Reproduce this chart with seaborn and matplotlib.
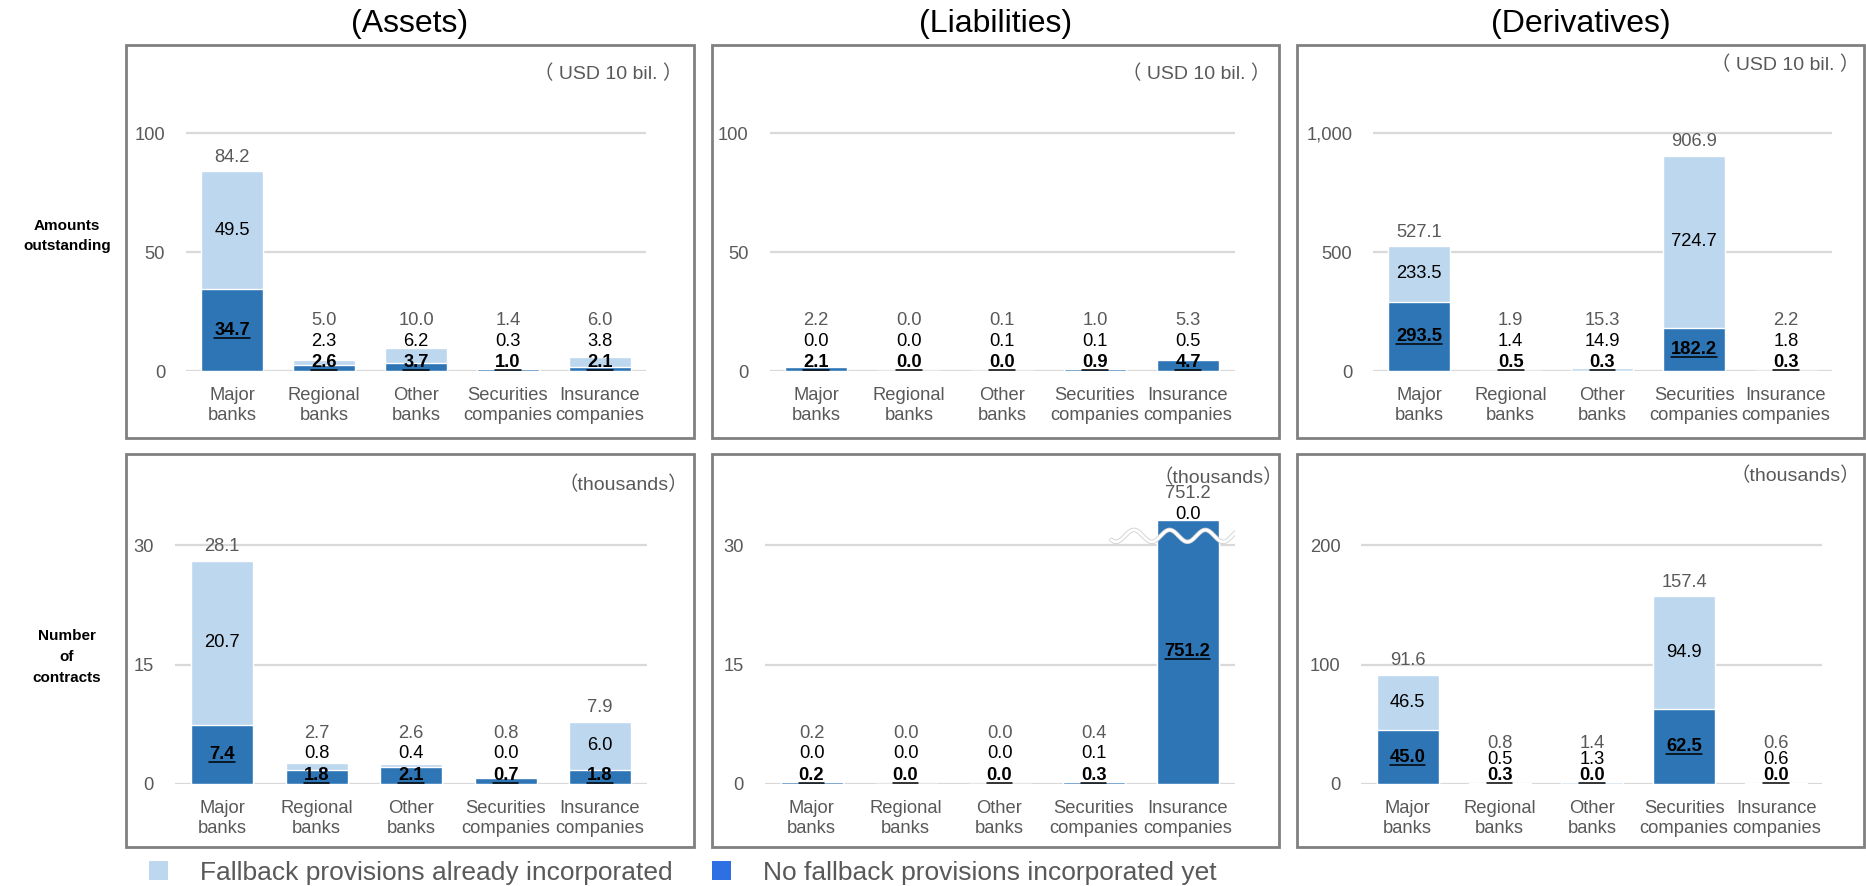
import numpy as np
import pandas as pd
import matplotlib
matplotlib.use("Agg")
import matplotlib.pyplot as plt
import seaborn as sns
from matplotlib.patches import Rectangle, Patch
from matplotlib.lines import Line2D

# ---------------- data ----------------
categories = ["Major\nbanks", "Regional\nbanks", "Other\nbanks",
              "Securities\ncompanies", "Insurance\ncompanies"]

col_titles = ["(Assets)", "(Liabilities)", "(Derivatives)"]
row_titles = ["Amounts\noutstanding", "Number\nof\ncontracts"]
unit_labels = [["（ USD 10 bil. ）", "（ USD 10 bil. ）", "（ USD 10 bil. ）"],
               ["（thousands）", "（thousands）", "（thousands）"]]
legend_labels = ["Fallback provisions already incorporated",
                 "No fallback provisions incorporated yet"]

assets_amt_total = [84.2, 5.0, 10.0, 1.4, 6.0]
assets_amt_fallback = [49.5, 2.3, 6.2, 0.3, 3.8]
assets_amt_nofallback = [34.7, 2.6, 3.7, 1.0, 2.1]

liab_amt_total = [2.2, 0.0, 0.1, 1.0, 5.3]
liab_amt_fallback = [0.0, 0.0, 0.1, 0.1, 0.5]
liab_amt_nofallback = [2.1, 0.0, 0.0, 0.9, 4.7]

deriv_amt_total = [527.1, 1.9, 15.3, 906.9, 2.2]
deriv_amt_fallback = [233.5, 1.4, 14.9, 724.7, 1.8]
deriv_amt_nofallback = [293.5, 0.5, 0.3, 182.2, 0.3]

assets_cnt_total = [28.1, 2.7, 2.6, 0.8, 7.9]
assets_cnt_fallback = [20.7, 0.8, 0.4, 0.0, 6.0]
assets_cnt_nofallback = [7.4, 1.8, 2.1, 0.7, 1.8]

liab_cnt_total = [0.2, 0.0, 0.0, 0.4, 751.2]
liab_cnt_fallback = [0.0, 0.0, 0.0, 0.1, 0.0]
liab_cnt_nofallback = [0.2, 0.0, 0.0, 0.3, 751.2]

deriv_cnt_total = [91.6, 0.8, 1.4, 157.4, 0.6]
deriv_cnt_fallback = [46.5, 0.5, 1.3, 94.9, 0.6]
deriv_cnt_nofallback = [45.0, 0.3, 0.0, 62.5, 0.0]

yticks_assets_amt = [0, 50, 100]
yticks_liab_amt = [0, 50, 100]
yticks_deriv_amt = [0, 500, 1000]
yticklabels_deriv_amt = ["0", "500", "1,000"]
yticks_cnt_small = [0, 15, 30]
yticks_deriv_cnt = [0, 100, 200]

panels = [
    [dict(total=assets_amt_total, fb=assets_amt_fallback, nofb=assets_amt_nofallback,
          ticks=yticks_assets_amt, ticklabels=[str(t) for t in yticks_assets_amt], cap=None),
     dict(total=liab_amt_total, fb=liab_amt_fallback, nofb=liab_amt_nofallback,
          ticks=yticks_liab_amt, ticklabels=[str(t) for t in yticks_liab_amt], cap=None),
     dict(total=deriv_amt_total, fb=deriv_amt_fallback, nofb=deriv_amt_nofallback,
          ticks=yticks_deriv_amt, ticklabels=yticklabels_deriv_amt, cap=None)],
    [dict(total=assets_cnt_total, fb=assets_cnt_fallback, nofb=assets_cnt_nofallback,
          ticks=yticks_cnt_small, ticklabels=[str(t) for t in yticks_cnt_small], cap=None),
     dict(total=liab_cnt_total, fb=liab_cnt_fallback, nofb=liab_cnt_nofallback,
          ticks=yticks_cnt_small, ticklabels=[str(t) for t in yticks_cnt_small], cap=33.2),
     dict(total=deriv_cnt_total, fb=deriv_cnt_fallback, nofb=deriv_cnt_nofallback,
          ticks=yticks_deriv_cnt, ticklabels=[str(t) for t in yticks_deriv_cnt], cap=None)],
]

# ---------------- style ----------------
LIGHT = "#BDD7EE"
DARK = "#2E75B6"
LEGEND_DARK = "#2F6FE4"
GRAY_TXT = "#595959"
GRID = "#D9D9D9"
BOX = "#808080"

sns.set_theme(style="white")
plt.rcParams["font.family"] = ["Liberation Sans", "Noto Sans CJK JP", "DejaVu Sans"]

W, H, DPI = 1866, 886, 100
fig = plt.figure(figsize=(W / DPI, H / DPI), dpi=DPI)

def fx(px):
    return px / W

def fy(py):
    return 1 - py / H

# geometry (pixels)
box_x = [(126, 694), (712, 1279), (1297, 1864)]
box_y = [(45, 438), (454, 847)]
# (first category centre, category spacing) per row / column
cat_geom = [[(232, 92.0), (816, 93.0), (1419, 91.7)],
            [(222, 94.5), (811.5, 94.0), (1407.5, 92.2)]]
baseline = [371.5, 784]
axes_top = [95, 470]
tick_span_px = [238, 238.6]
stack_gap = [[21, 21, 21], [21, 21, 16]]
unit_pos = [[(682, 74), (1270, 74), (1859, 65)],
            [(688, 485), (1283, 478), (1860, 476)]]

LBL_FS = 13.2
bold_texts = []

for r in range(2):
    for c in range(3):
        # panel box
        x0, x1 = box_x[c]
        y0, y1 = box_y[r]
        fig.add_artist(Rectangle((fx(x0), fy(y1)), fx(x1 - x0), (y1 - y0) / H,
                                 transform=fig.transFigure, fill=False,
                                 edgecolor=BOX, linewidth=2.0, zorder=0))
        p = panels[r][c]
        fc, sp = cat_geom[r][c]
        left_px = fc - 0.5 * sp
        right_px = fc + 4.5 * sp
        ax_h_px = baseline[r] - axes_top[r]
        ax = fig.add_axes([fx(left_px), fy(baseline[r]), fx(right_px - left_px), ax_h_px / H])
        tmax = p["ticks"][-1]
        ytop = ax_h_px / tick_span_px[r] * tmax
        ppu = ax_h_px / ytop  # pixels per data unit

        nofb = np.array(p["nofb"], dtype=float)
        fb = np.array(p["fb"], dtype=float)
        stack = nofb + fb
        cap = p["cap"]
        if cap is not None:
            stack_d = np.minimum(stack, cap)
            nofb_d = np.minimum(nofb, cap)
        else:
            stack_d, nofb_d = stack, nofb
        fb_d = stack_d - nofb_d

        df_top = pd.DataFrame({"cat": categories, "value": stack_d})
        df_bot = pd.DataFrame({"cat": categories, "value": nofb_d})
        bw = 62.0 / sp
        sns.barplot(data=df_top, x="cat", y="value", order=categories, color=LIGHT,
                    saturation=1, width=bw, errorbar=None, ax=ax, zorder=2)
        sns.barplot(data=df_bot, x="cat", y="value", order=categories, color=DARK,
                    saturation=1, width=bw, errorbar=None, ax=ax, zorder=3)

        ax.set_xlim(-0.5, 4.5)
        ax.set_ylim(0, ytop)
        ax.set_yticks(p["ticks"])
        ax.set_yticklabels(p["ticklabels"])
        ax.set_xlabel("")
        ax.set_ylabel("")
        for s in ax.spines.values():
            s.set_visible(False)
        ax.yaxis.grid(True, color=GRID, linewidth=1.6)
        ax.xaxis.grid(False)
        ax.set_axisbelow(True)
        ax.tick_params(axis="both", length=0, labelcolor=GRAY_TXT, labelsize=LBL_FS)
        ax.tick_params(axis="y", pad=15)
        ax.tick_params(axis="x", pad=11.5)
        ax.patch.set_alpha(0)

        gap = stack_gap[r][c]
        # data labels
        for i in range(len(categories)):
            dark_px = max(nofb_d[i] / 2 * ppu, 9)
            light_px = max((nofb_d[i] + fb_d[i] / 2) * ppu, dark_px + gap)
            if cap is not None and stack[i] > cap:
                light_px += 5
            total_px = max(stack_d[i] * ppu + 14, light_px + gap)
            t = ax.text(i, dark_px / ppu, f"{p['nofb'][i]:.1f}", ha="center", va="center",
                        fontsize=LBL_FS, fontweight="bold", color="black", zorder=6,
                        clip_on=False)
            bold_texts.append(t)
            ax.text(i, light_px / ppu, f"{p['fb'][i]:.1f}", ha="center", va="center",
                    fontsize=LBL_FS, color="black", zorder=6, clip_on=False)
            ax.text(i, total_px / ppu, f"{p['total'][i]:.1f}", ha="center", va="center",
                    fontsize=LBL_FS, color=GRAY_TXT, zorder=6, clip_on=False)

        # axis break wave
        if cap is not None:
            for i in np.where(stack > cap)[0]:
                xs = np.linspace(i - 0.81, i + 0.81, 300)
                wave_y = 31.2 - 0.75 * np.cos(2 * np.pi * (xs - i) / 0.38)
                ax.plot(xs, wave_y, color="#CFCFCF", linewidth=3.2, zorder=4,
                        solid_capstyle="round")
                ax.plot(xs, wave_y, color="white", linewidth=2.0, zorder=5,
                        solid_capstyle="round")

        ux, uy = unit_pos[r][c]
        fig.text(fx(ux), fy(uy), unit_labels[r][c], ha="right", va="center",
                 fontsize=14, color=GRAY_TXT)

# column titles
for c in range(3):
    cx = (box_x[c][0] + box_x[c][1]) / 2
    fig.text(fx(cx), fy(24), col_titles[c], ha="center", va="center",
             fontsize=23, color="black")

# row titles
fig.text(fx(67), fy(236), row_titles[0], ha="center", va="center", fontsize=11,
         fontweight="bold", color="black", linespacing=1.6)
fig.text(fx(67), fy(657), row_titles[1], ha="center", va="center", fontsize=11,
         fontweight="bold", color="black", linespacing=1.6)

# legend
handles = [Patch(facecolor=LIGHT, edgecolor="none"),
           Patch(facecolor=LEGEND_DARK, edgecolor="none")]
fig.legend(handles, legend_labels, loc="center", bbox_to_anchor=(fx(683), fy(873)),
           ncol=2, frameon=False, fontsize=19, handlelength=0.72, handleheight=0.72,
           handletextpad=1.2, columnspacing=1.5, borderpad=0, labelcolor=GRAY_TXT)

# underline bold labels
fig.canvas.draw()
renderer = fig.canvas.get_renderer()
for t in bold_texts:
    bb = t.get_window_extent(renderer)
    yline = bb.y0 + 1.0
    fig.add_artist(Line2D([bb.x0 / W, bb.x1 / W], [yline / H, yline / H],
                          transform=fig.transFigure, color="black", linewidth=1.1,
                          zorder=10))

fig.savefig("out.png", dpi=DPI)
